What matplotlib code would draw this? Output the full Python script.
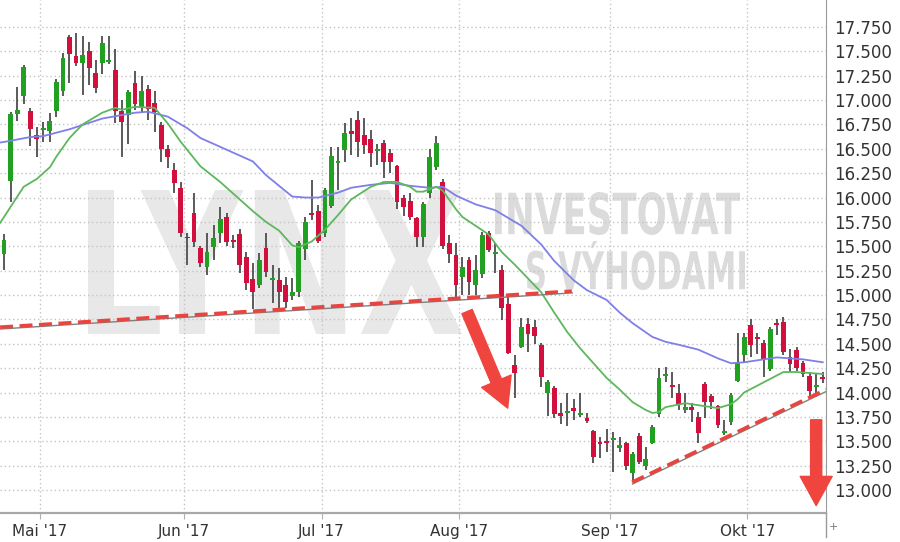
import numpy as np
import matplotlib
matplotlib.use('Agg')
import matplotlib.pyplot as plt
from matplotlib.textpath import TextPath
from matplotlib.font_manager import FontProperties
from matplotlib.patches import PathPatch
from matplotlib.transforms import Affine2D, offset_copy
from matplotlib.lines import Line2D

# daily candles, Apr 21 - Oct 17 2017 (trading days, index 0..125)
opens = [15.42, 16.17, 16.86, 17.04, 16.89, 16.64, 16.69, 16.68, 16.89, 17.09,
         17.65, 17.45, 17.38, 17.50, 17.28, 17.38, 17.40, 17.31, 16.89, 16.85,
         17.17, 16.93, 17.11, 16.97, 16.74, 16.50, 16.28, 16.10, 15.60, 15.84,
         15.48, 15.29, 15.49, 15.64, 15.80, 15.56, 15.63, 15.39, 15.16, 15.10,
         15.48, 15.16, 15.15, 15.10, 14.99, 15.03, 15.47, 15.84, 15.86, 15.64,
         15.91, 16.35, 16.49, 16.68, 16.80, 16.64, 16.60, 16.48, 16.56, 16.46,
         16.32, 16.00, 15.96, 15.79, 15.59, 16.05, 16.31, 16.16, 15.53, 15.41,
         15.18, 15.36, 15.10, 15.22, 15.64, 15.43, 15.26, 14.91, 14.28, 14.47,
         14.70, 14.67, 14.49, 14.00, 14.05, 13.79, 13.79, 13.84, 13.77, 13.74,
         13.61, 13.49, 13.50, 13.52, 13.43, 13.48, 13.17, 13.55, 13.25, 13.48,
         13.78, 14.17, 14.08, 14.00, 13.82, 13.85, 13.75, 14.09, 13.96, 13.86,
         13.58, 13.70, 14.12, 14.38, 14.69, 14.57, 14.51, 14.24, 14.71, 14.72,
         14.36, 14.44, 14.30, 14.17, 14.06, 14.16]
highs = [15.63, 16.88, 17.13, 17.36, 16.92, 16.72, 16.77, 16.87, 17.22, 17.48,
         17.67, 17.69, 17.66, 17.60, 17.41, 17.66, 17.66, 17.52, 17.00, 17.10,
         17.30, 17.25, 17.15, 17.09, 16.77, 16.54, 16.35, 16.16, 15.64, 16.05,
         15.50, 15.64, 15.72, 15.90, 15.84, 15.62, 15.68, 15.44, 15.33, 15.43,
         15.64, 15.31, 15.28, 15.18, 15.17, 15.55, 15.80, 16.18, 15.92, 16.10,
         16.52, 16.52, 16.76, 16.82, 16.89, 16.82, 16.69, 16.55, 16.59, 16.50,
         16.33, 16.03, 16.05, 15.80, 15.95, 16.50, 16.63, 16.19, 15.62, 15.53,
         15.39, 15.39, 15.41, 15.65, 15.66, 15.53, 15.31, 15.00, 14.38, 14.76,
         14.76, 14.74, 14.51, 14.13, 14.07, 13.89, 14.00, 13.93, 13.99, 13.79,
         13.62, 13.54, 13.63, 13.59, 13.54, 13.49, 13.39, 13.58, 13.44, 13.67,
         14.25, 14.26, 14.21, 14.09, 13.99, 13.89, 13.80, 14.11, 13.98, 13.87,
         13.72, 13.99, 14.61, 14.61, 14.75, 14.61, 14.54, 14.67, 14.75, 14.77,
         14.45, 14.47, 14.32, 14.21, 14.20, 14.21]
lows = [15.26, 15.95, 16.78, 16.96, 16.53, 16.42, 16.57, 16.57, 16.83, 17.04,
        17.17, 17.35, 17.05, 17.15, 17.07, 17.27, 17.37, 16.76, 16.42, 16.55,
        16.90, 16.88, 16.80, 16.67, 16.36, 16.30, 16.05, 15.60, 15.31, 15.49,
        15.29, 15.21, 15.36, 15.53, 15.50, 15.48, 15.23, 15.05, 14.86, 15.07,
        15.18, 14.92, 14.85, 14.87, 14.95, 14.98, 15.36, 15.77, 15.53, 15.60,
        15.89, 16.08, 16.36, 16.44, 16.42, 16.45, 16.31, 16.33, 16.20, 16.25,
        15.88, 15.81, 15.77, 15.49, 15.49, 15.99, 16.28, 15.47, 15.33, 14.98,
        15.00, 15.00, 15.00, 15.17, 15.44, 15.23, 14.74, 14.40, 13.94, 14.46,
        14.42, 14.50, 14.06, 13.76, 13.74, 13.68, 13.66, 13.72, 13.75, 13.69,
        13.28, 13.33, 13.39, 13.18, 13.39, 13.21, 13.10, 13.27, 13.21, 13.47,
        13.75, 14.11, 13.94, 13.82, 13.79, 13.70, 13.48, 13.74, 13.83, 13.64,
        13.56, 13.67, 14.11, 14.30, 14.36, 14.40, 14.16, 14.22, 14.59, 14.38,
        14.21, 14.22, 14.16, 13.94, 13.95, 14.10]
closes = [15.56, 16.86, 16.90, 17.34, 16.70, 16.60, 16.71, 16.78, 17.18, 17.43,
          17.47, 17.38, 17.46, 17.33, 17.12, 17.58, 17.41, 16.89, 16.77, 17.08,
          16.96, 17.09, 16.91, 16.88, 16.50, 16.42, 16.15, 15.64, 15.58, 15.54,
          15.33, 15.44, 15.58, 15.78, 15.54, 15.55, 15.31, 15.12, 15.03, 15.36,
          15.24, 15.17, 15.03, 14.93, 15.03, 15.53, 15.75, 15.82, 15.55, 16.08,
          16.43, 16.37, 16.66, 16.65, 16.57, 16.54, 16.46, 16.50, 16.36, 16.36,
          15.95, 15.90, 15.80, 15.59, 15.93, 16.42, 16.56, 15.50, 15.42, 15.10,
          15.29, 15.13, 15.26, 15.62, 15.46, 15.44, 14.87, 14.41, 14.20, 14.67,
          14.60, 14.58, 14.16, 14.11, 13.78, 13.76, 13.81, 13.81, 13.79, 13.71,
          13.34, 13.47, 13.48, 13.53, 13.46, 13.25, 13.37, 13.29, 13.32, 13.65,
          14.15, 14.18, 14.06, 13.87, 13.85, 13.82, 13.58, 13.90, 13.90, 13.67,
          13.61, 13.97, 14.30, 14.57, 14.49, 14.55, 14.33, 14.65, 14.69, 14.42,
          14.29, 14.25, 14.19, 14.02, 14.08, 14.14]

# moving averages (candle index, value)
ma_fast_idx = [-1, 0, 3, 5, 7, 8, 10, 12, 15, 17, 18, 20, 23, 25, 27, 30, 33, 35, 38, 40,
               42, 44, 45, 47, 49, 51, 53, 56, 58, 60, 62, 63, 64, 66, 67, 69, 70, 72, 74, 76,
               78, 80, 82, 84, 86, 88, 90, 92, 94, 96, 98, 99, 100, 101, 104, 107, 109, 111, 112, 113,
               115, 117, 119, 121, 123, 125]
ma_fast = [15.70, 15.80, 16.11, 16.19, 16.31, 16.42, 16.61, 16.75, 16.87, 16.92, 16.90, 16.93, 16.92,
           16.76, 16.57, 16.32, 16.16, 16.04, 15.86, 15.75, 15.66, 15.51, 15.49, 15.55, 15.67, 15.82,
           15.98, 16.11, 16.16, 16.16, 16.11, 16.06, 16.06, 16.11, 16.07, 15.88, 15.80, 15.71, 15.62,
           15.44, 15.31, 15.17, 15.03, 14.82, 14.62, 14.45, 14.30, 14.15, 14.03, 13.90, 13.82, 13.79,
           13.80, 13.85, 13.89, 13.86, 13.84, 13.88, 13.93, 14.00, 14.07, 14.14, 14.21, 14.21, 14.20,
           14.19]
ma_slow_idx = [-1, 0, 4, 6, 10, 15, 20, 22, 25, 28, 30, 33, 35, 38, 40, 42, 44, 46, 48, 51,
               53, 56, 59, 62, 65, 67, 69, 72, 75, 77, 79, 82, 84, 87, 89, 92, 94, 96, 99, 101,
               103, 106, 109, 111, 113, 118, 122, 125]
ma_slow = [16.56, 16.57, 16.62, 16.63, 16.70, 16.81, 16.87, 16.88, 16.83, 16.71, 16.61, 16.52,
           16.46, 16.37, 16.23, 16.12, 16.01, 16.00, 16.00, 16.05, 16.10, 16.13, 16.15, 16.12,
           16.10, 16.11, 16.02, 15.93, 15.87, 15.79, 15.71, 15.52, 15.35, 15.15, 15.05, 14.95,
           14.82, 14.71, 14.57, 14.52, 14.49, 14.44, 14.35, 14.30, 14.31, 14.36, 14.34, 14.31]

# hand drawn trend lines and arrows (candle index, price)
trend1_x, trend1_y = [-0.6, 86.7], [14.67, 15.04]
trend2_x, trend2_y = [95.9, 125.5], [13.08, 14.03]
arrow1 = [(70.7, 14.83), (76.9, 13.84)]
arrow2 = [(124.0, 13.72), (124.0, 12.84)]

month_pos = [5.5, 27.5, 48.5, 69.5, 92.5, 113.5]
month_labels = ["Mai '17", "Jun '17", "Jul '17", "Aug '17", "Sep '17", "Okt '17"]

W, H = 900, 542
fig = plt.figure(figsize=(W / 100, H / 100), dpi=100)
ax = fig.add_axes([0, 29 / H, 826 / W, 513 / H])


def stamp(text, box, color):
    # watermark text stretched into a pixel box (x0, y0, x1, y1 from top left)
    tp = TextPath((0, 0), text, size=100,
                  prop=FontProperties(family='DejaVu Sans', weight='bold'))
    bb = tp.get_extents()
    x0, y0, x1, y1 = box
    tr = (Affine2D().translate(-bb.x0, -bb.y0)
          .scale((x1 - x0) / bb.width / W, (y1 - y0) / bb.height / H)
          .translate(x0 / W, 1 - y1 / H) + fig.transFigure)
    ax.add_artist(PathPatch(tp, transform=tr, facecolor=color,
                            edgecolor='none', zorder=0.2))


stamp("LYNX", (88, 190, 462, 334), '#e8e8e8')
stamp("INVESTOVAT", (495, 192, 740, 235), '#dbdbdb')
stamp("S VÝHODAMI", (527, 241, 745, 290), '#dbdbdb')

o = np.array(opens)
h = np.array(highs)
l = np.array(lows)
c = np.array(closes)
x = np.arange(len(o))
cols = np.where(c >= o, '#21a021', '#d2103e')
body = np.abs(c - o)
bottom = np.minimum(o, c)
small = body < 0.02
bottom[small] = (o[small] + c[small]) / 2 - 0.01
body[small] = 0.02

ax.vlines(x, l, h, color='#4d4d4d', lw=1.3, zorder=3)
ax.bar(x, body, bottom=bottom, width=0.74, color=cols, linewidth=0, zorder=4)

ax.plot(ma_slow_idx, ma_slow, color='#7f7fe8', lw=1.3, zorder=5)
ax.plot(ma_fast_idx, ma_fast, color='#5cb85c', lw=1.3, zorder=5)

shadow = offset_copy(ax.transData, fig=fig, x=0.3, y=-1.3, units='points')
for tx, ty in [(trend1_x, trend1_y), (trend2_x, trend2_y)]:
    ax.plot(tx, ty, color='#808080', lw=1.0, zorder=5.5, transform=shadow)
    ax.plot(tx, ty, color='#ea4440', lw=2.6, dashes=(3.6, 1.8),
            dash_capstyle='butt', zorder=6)

for tail, tip in [arrow1, arrow2]:
    ax.annotate('', xy=tip, xytext=tail, zorder=7,
                arrowprops=dict(arrowstyle='simple,head_length=21,head_width=23,tail_width=8',
                                mutation_scale=1, shrinkA=0, shrinkB=0,
                                facecolor='#f0453f', edgecolor='#f0453f',
                                lw=1, joinstyle='round'))

ax.set_xlim(-0.61, 125.5)
ax.set_ylim(12.764, 18.026)

ax.yaxis.tick_right()
ax.set_yticks(np.arange(13.0, 17.76, 0.25))
ax.yaxis.set_major_formatter(matplotlib.ticker.FormatStrFormatter('%.3f'))
ax.set_xticks(month_pos)
ax.set_xticklabels(month_labels)
ax.set_axisbelow(True)
ax.grid(True, color='#c4c4c4', linestyle=(0, (1, 2)), lw=1)

for side in ['top', 'left']:
    ax.spines[side].set_visible(False)
ax.spines['right'].set_color('#9a9a9a')
ax.spines['bottom'].set_color('#a8a8a8')
ax.spines['bottom'].set_linewidth(1.6)

ax.tick_params(axis='y', length=0, pad=6, labelsize=12, labelcolor='#333333')
ax.tick_params(axis='x', length=4, color='#b0b0b0', pad=4, labelsize=11,
               labelcolor='#333333')

fig.add_artist(Line2D([826 / W, 826 / W], [1 - 513 / H, 1 - 537 / H],
                      color='#9a9a9a', lw=1))
fig.text(833 / W, 1 - 527 / H, '+', fontsize=8, color='#777777',
         ha='center', va='center')

fig.savefig('out.png', dpi=100)
